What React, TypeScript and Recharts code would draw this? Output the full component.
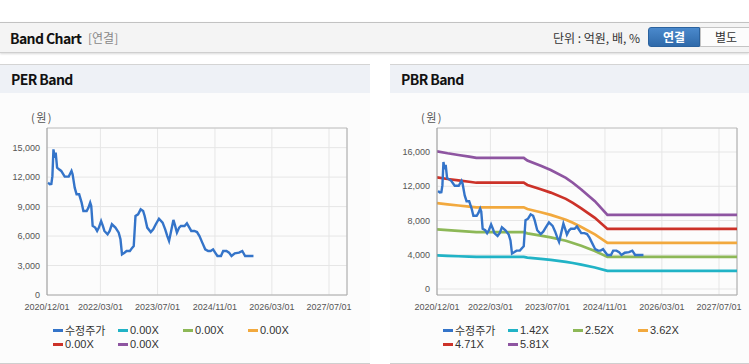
import React from "react";
import { LineChart, Line, XAxis, YAxis, CartesianGrid, ReferenceLine } from "recharts";

// 수정주가 (adjusted price)
const priceDates = [
  "2020-12-10", "2020-12-25", "2021-01-07", "2021-01-16", "2021-01-25", "2021-02-04", "2021-02-13",
  "2021-02-25", "2021-03-13", "2021-04-01", "2021-05-01", "2021-06-04", "2021-06-28", "2021-07-07",
  "2021-07-25", "2021-08-10", "2021-09-01", "2021-09-22", "2021-10-07", "2021-11-04", "2021-11-19",
  "2021-12-04", "2021-12-13", "2021-12-25", "2022-01-16", "2022-02-01", "2022-02-16", "2022-03-07",
  "2022-03-22", "2022-04-04", "2022-05-01", "2022-05-19", "2022-06-07", "2022-07-07", "2022-08-04",
  "2022-08-19", "2022-09-01", "2022-09-22", "2022-10-10", "2022-11-07", "2022-11-28", "2022-12-10",
  "2022-12-25", "2023-01-16", "2023-02-07", "2023-02-28", "2023-03-13", "2023-04-04", "2023-05-04",
  "2023-05-25", "2023-06-16", "2023-07-13", "2023-08-13", "2023-09-04", "2023-09-22", "2023-10-07",
  "2023-10-22", "2023-11-13", "2023-11-28", "2023-12-13", "2024-01-01", "2024-01-16", "2024-02-16",
  "2024-03-07", "2024-03-28", "2024-04-13", "2024-05-10", "2024-06-01", "2024-06-22", "2024-07-16",
  "2024-08-10", "2024-09-04", "2024-09-25", "2024-10-16", "2024-11-07", "2024-11-22", "2024-12-22",
  "2025-01-10", "2025-02-07", "2025-03-01", "2025-03-22", "2025-04-19", "2025-05-25", "2025-06-22",
  "2025-07-16", "2025-09-25",
];
const priceValues = [
  11440, 11270, 11300, 12100, 14830, 13980, 14490,
  12960, 12800, 12630, 12050, 12050, 12630, 12300,
  10930, 10250, 10250, 9400, 8550, 8550, 8890,
  9400, 9060, 7030, 6860, 6520, 6860, 7530,
  7030, 6520, 6180, 6520, 7200, 6860, 6350,
  5670, 4140, 4310, 4480, 4480, 4820, 4990,
  8040, 8210, 8720, 8550, 8040, 6860, 6410,
  6690, 7200, 7770, 7370, 6690, 6000, 5500,
  6350, 7640, 7030, 6350, 6860, 7030, 7030,
  7300, 6860, 6520, 6520, 6410, 6000, 5330,
  4650, 4480, 4480, 4650, 4240, 3970, 3970,
  4480, 4480, 4310, 3970, 4240, 4310, 4480,
  3970, 3970,
];

// PBR bands
const bandDates = [
  "2020-12-01", "2021-03-01", "2021-06-01", "2021-09-01", "2021-11-01", "2022-12-10", "2023-01-10",
  "2023-05-04", "2023-07-28", "2023-12-04", "2024-02-01", "2024-04-13", "2024-08-07", "2024-11-22",
  "2027-12-01",
];
const band142 = [3931, 3874, 3825, 3776, 3742, 3742, 3664, 3515, 3394, 3174, 3032, 2840, 2506, 2116, 2116];
const band252 = [6975, 6875, 6789, 6701, 6640, 6640, 6502, 6237, 6023, 5632, 5380, 5040, 4448, 3755, 3755];
const band362 = [10020, 9875, 9752, 9626, 9539, 9539, 9340, 8960, 8652, 8091, 7729, 7240, 6389, 5394, 5394];
const band471 = [13037, 12849, 12689, 12524, 12411, 12411, 12152, 11657, 11257, 10527, 10056, 9420, 8313, 7018, 7018];
const band581 = [16082, 15850, 15652, 15449, 15309, 15309, 14990, 14380, 13886, 12985, 12404, 11620, 10255, 8657, 8657];

const perLabels = ["0.00X", "0.00X", "0.00X", "0.00X", "0.00X"];
const pbrLabels = ["1.42X", "2.52X", "3.62X", "4.71X", "5.81X"];
const bandColors = ["#21b3c6", "#8db857", "#f2a93e", "#cc3229", "#8e55a1"];
const priceColor = "#3474c9";

const xStart = "2020-12-01";
const xEnd = "2027-12-01";
const xTickDates = ["2020-12-01", "2022-03-01", "2023-07-01", "2024-11-01", "2026-03-01", "2027-07-01"];
const perTicks = [0, 3000, 6000, 9000, 12000, 15000];
const pbrTicks = [0, 4000, 8000, 12000, 16000];

const ts = (s: string) => {
  const [y, m, d] = s.split("-").map(Number);
  return Date.UTC(y, m - 1, d);
};
const fmtDate = (v: number) => {
  const d = new Date(v);
  const mm = String(d.getUTCMonth() + 1).padStart(2, "0");
  const dd = String(d.getUTCDate()).padStart(2, "0");
  return `${d.getUTCFullYear()}/${mm}/${dd}`;
};

const priceData = priceDates.map((d, i) => ({ t: ts(d), v: priceValues[i] }));
const bandSeries = [band142, band252, band362, band471, band581].map((vals) =>
  bandDates.map((d, i) => ({ t: ts(d), v: vals[i] }))
);

const KR = "'Noto Sans CJK KR', 'Noto Sans', sans-serif";
const tickStyle = { fill: "#555", fontSize: 9, fontFamily: "'Liberation Sans', Arial, sans-serif" };

interface BandPanelProps {
  left: number;
  width: number;
  title: string;
  yDomain: [number, number];
  yTicks: number[];
  labels: string[];
  showBands: boolean;
}

const BandPanel: React.FC<BandPanelProps> = ({ left, width, title, yDomain, yTicks, labels, showBands }) => {
  const plotLeft = 47;
  const legendItems = [{ label: "수정주가", color: priceColor }].concat(
    labels.map((l, i) => ({ label: l, color: bandColors[i] }))
  );
  return (
    <div style={{ position: "absolute", left, top: 64, width, height: 300 }}>
      <div
        style={{
          position: "absolute",
          left: 0,
          top: 0,
          width,
          height: 28,
          background: "#eef1f6",
          borderTop: "1px solid #d4d4d4",
        }}
      >
        <span
          style={{
            position: "absolute",
            left: 11,
            top: 4,
            fontFamily: KR,
            fontWeight: 700,
            fontSize: 14,
            letterSpacing: -0.6,
            color: "#111",
          }}
        >
          {title}
        </span>
      </div>
      <div
        style={{
          position: "absolute",
          left: 0,
          top: 29,
          width,
          height: 270,
          background: "#fcfcfc",
          borderBottom: "1px solid #cfcfcf",
        }}
      >
        <span style={{ position: "absolute", left: 31, top: 16, fontFamily: KR, fontSize: 11, color: "#555", letterSpacing: 1.5 }}>
          (원)
        </span>
        <LineChart width={width} height={270} margin={{ top: 35, right: width - 300 - plotLeft, left: 0, bottom: 0 }}>
          <CartesianGrid stroke="#e6e6e6" />
          <XAxis
            dataKey="t"
            type="number"
            scale="time"
            domain={[ts(xStart), ts(xEnd)]}
            ticks={xTickDates.map(ts)}
            tickFormatter={fmtDate}
            tick={tickStyle}
            tickLine={false}
            tickSize={0}
            tickMargin={9}
            height={68}
            interval={0}
            axisLine={{ stroke: "#aaa" }}
            allowDataOverflow
          />
          <YAxis
            type="number"
            domain={yDomain}
            ticks={yTicks}
            tickFormatter={(v) => Number(v).toLocaleString("en-US")}
            tick={tickStyle}
            tickLine={false}
            tickSize={0}
            tickMargin={7}
            width={plotLeft}
            interval={0}
            axisLine={{ stroke: "#999" }}
            allowDataOverflow
          />
          <ReferenceLine y={yDomain[1]} stroke="#c4c4c4" />
          <ReferenceLine x={ts(xEnd)} stroke="#aaa" />
          {showBands &&
            bandSeries.map((data, i) => (
              <Line
                key={i}
                data={data}
                dataKey="v"
                stroke={bandColors[i]}
                strokeWidth={2.7}
                dot={false}
                type="linear"
                isAnimationActive={false}
              />
            ))}
          <Line
            data={priceData}
            dataKey="v"
            stroke={priceColor}
            strokeWidth={2.4}
            dot={false}
            type="linear"
            isAnimationActive={false}
          />
        </LineChart>
        <div style={{ position: "absolute", left: plotLeft + 6, top: 230, width: 270 }}>
          {legendItems.map((it, i) => (
            <div
              key={i}
              style={{
                position: "absolute",
                left: (i % 4) * 65,
                top: Math.floor(i / 4) * 14,
                height: 14,
                display: "flex",
                alignItems: "center",
                whiteSpace: "nowrap",
              }}
            >
              <div style={{ width: 10, height: 3, background: it.color, marginRight: 2 }} />
              <span style={{ fontFamily: i === 0 ? KR : "'Liberation Sans', Arial, sans-serif", fontSize: 11, color: "#333" }}>
                {it.label}
              </span>
            </div>
          ))}
        </div>
      </div>
    </div>
  );
};

export default function App() {
  return (
    <div style={{ position: "absolute", left: 0, top: 0, width: 749, height: 364, overflow: "hidden", background: "#fff" }}>
      <div
        style={{
          position: "absolute",
          left: 0,
          top: 22,
          width: 749,
          height: 29,
          background: "#f4f4f4",
          borderTop: "1px solid #c2c2c2",
          borderBottom: "1px solid #cfcfcf",
          boxShadow: "0 1px 2px rgba(0,0,0,0.15)",
        }}
      >
        <span
          style={{
            position: "absolute",
            left: 10,
            top: 5,
            fontFamily: KR,
            fontWeight: 700,
            fontSize: 14,
            letterSpacing: -0.6,
            color: "#111",
          }}
        >
          Band Chart
        </span>
        <span style={{ position: "absolute", left: 88, top: 6, fontFamily: KR, fontSize: 12, color: "#888" }}>
          [연결]
        </span>
        <span style={{ position: "absolute", left: 553, top: 6, fontFamily: KR, fontSize: 12, color: "#333" }}>
          단위 : 억원, 배, %
        </span>
        <div
          style={{
            position: "absolute",
            left: 648,
            top: 4,
            width: 52,
            height: 20,
            boxSizing: "border-box",
            background: "linear-gradient(#4a89cc, #2f6aaa)",
            border: "1px solid #2b629e",
            borderRadius: "3px 0 0 3px",
            color: "#fff",
            fontFamily: KR,
            fontWeight: 700,
            fontSize: 12,
            textAlign: "center",
            lineHeight: "18px",
          }}
        >
          연결
        </div>
        <div
          style={{
            position: "absolute",
            left: 700,
            top: 4,
            width: 52,
            height: 20,
            boxSizing: "border-box",
            background: "#fcfcfc",
            border: "1px solid #c4c4c4",
            color: "#333",
            fontFamily: KR,
            fontSize: 12,
            textAlign: "center",
            lineHeight: "18px",
          }}
        >
          별도
        </div>
      </div>
      <BandPanel
        left={0}
        width={370}
        title="PER Band"
        yDomain={[0, 17000]}
        yTicks={perTicks}
        labels={perLabels}
        showBands={false}
      />
      <BandPanel
        left={390}
        width={359}
        title="PBR Band"
        yDomain={[-700, 18800]}
        yTicks={pbrTicks}
        labels={pbrLabels}
        showBands={true}
      />
    </div>
  );
}
